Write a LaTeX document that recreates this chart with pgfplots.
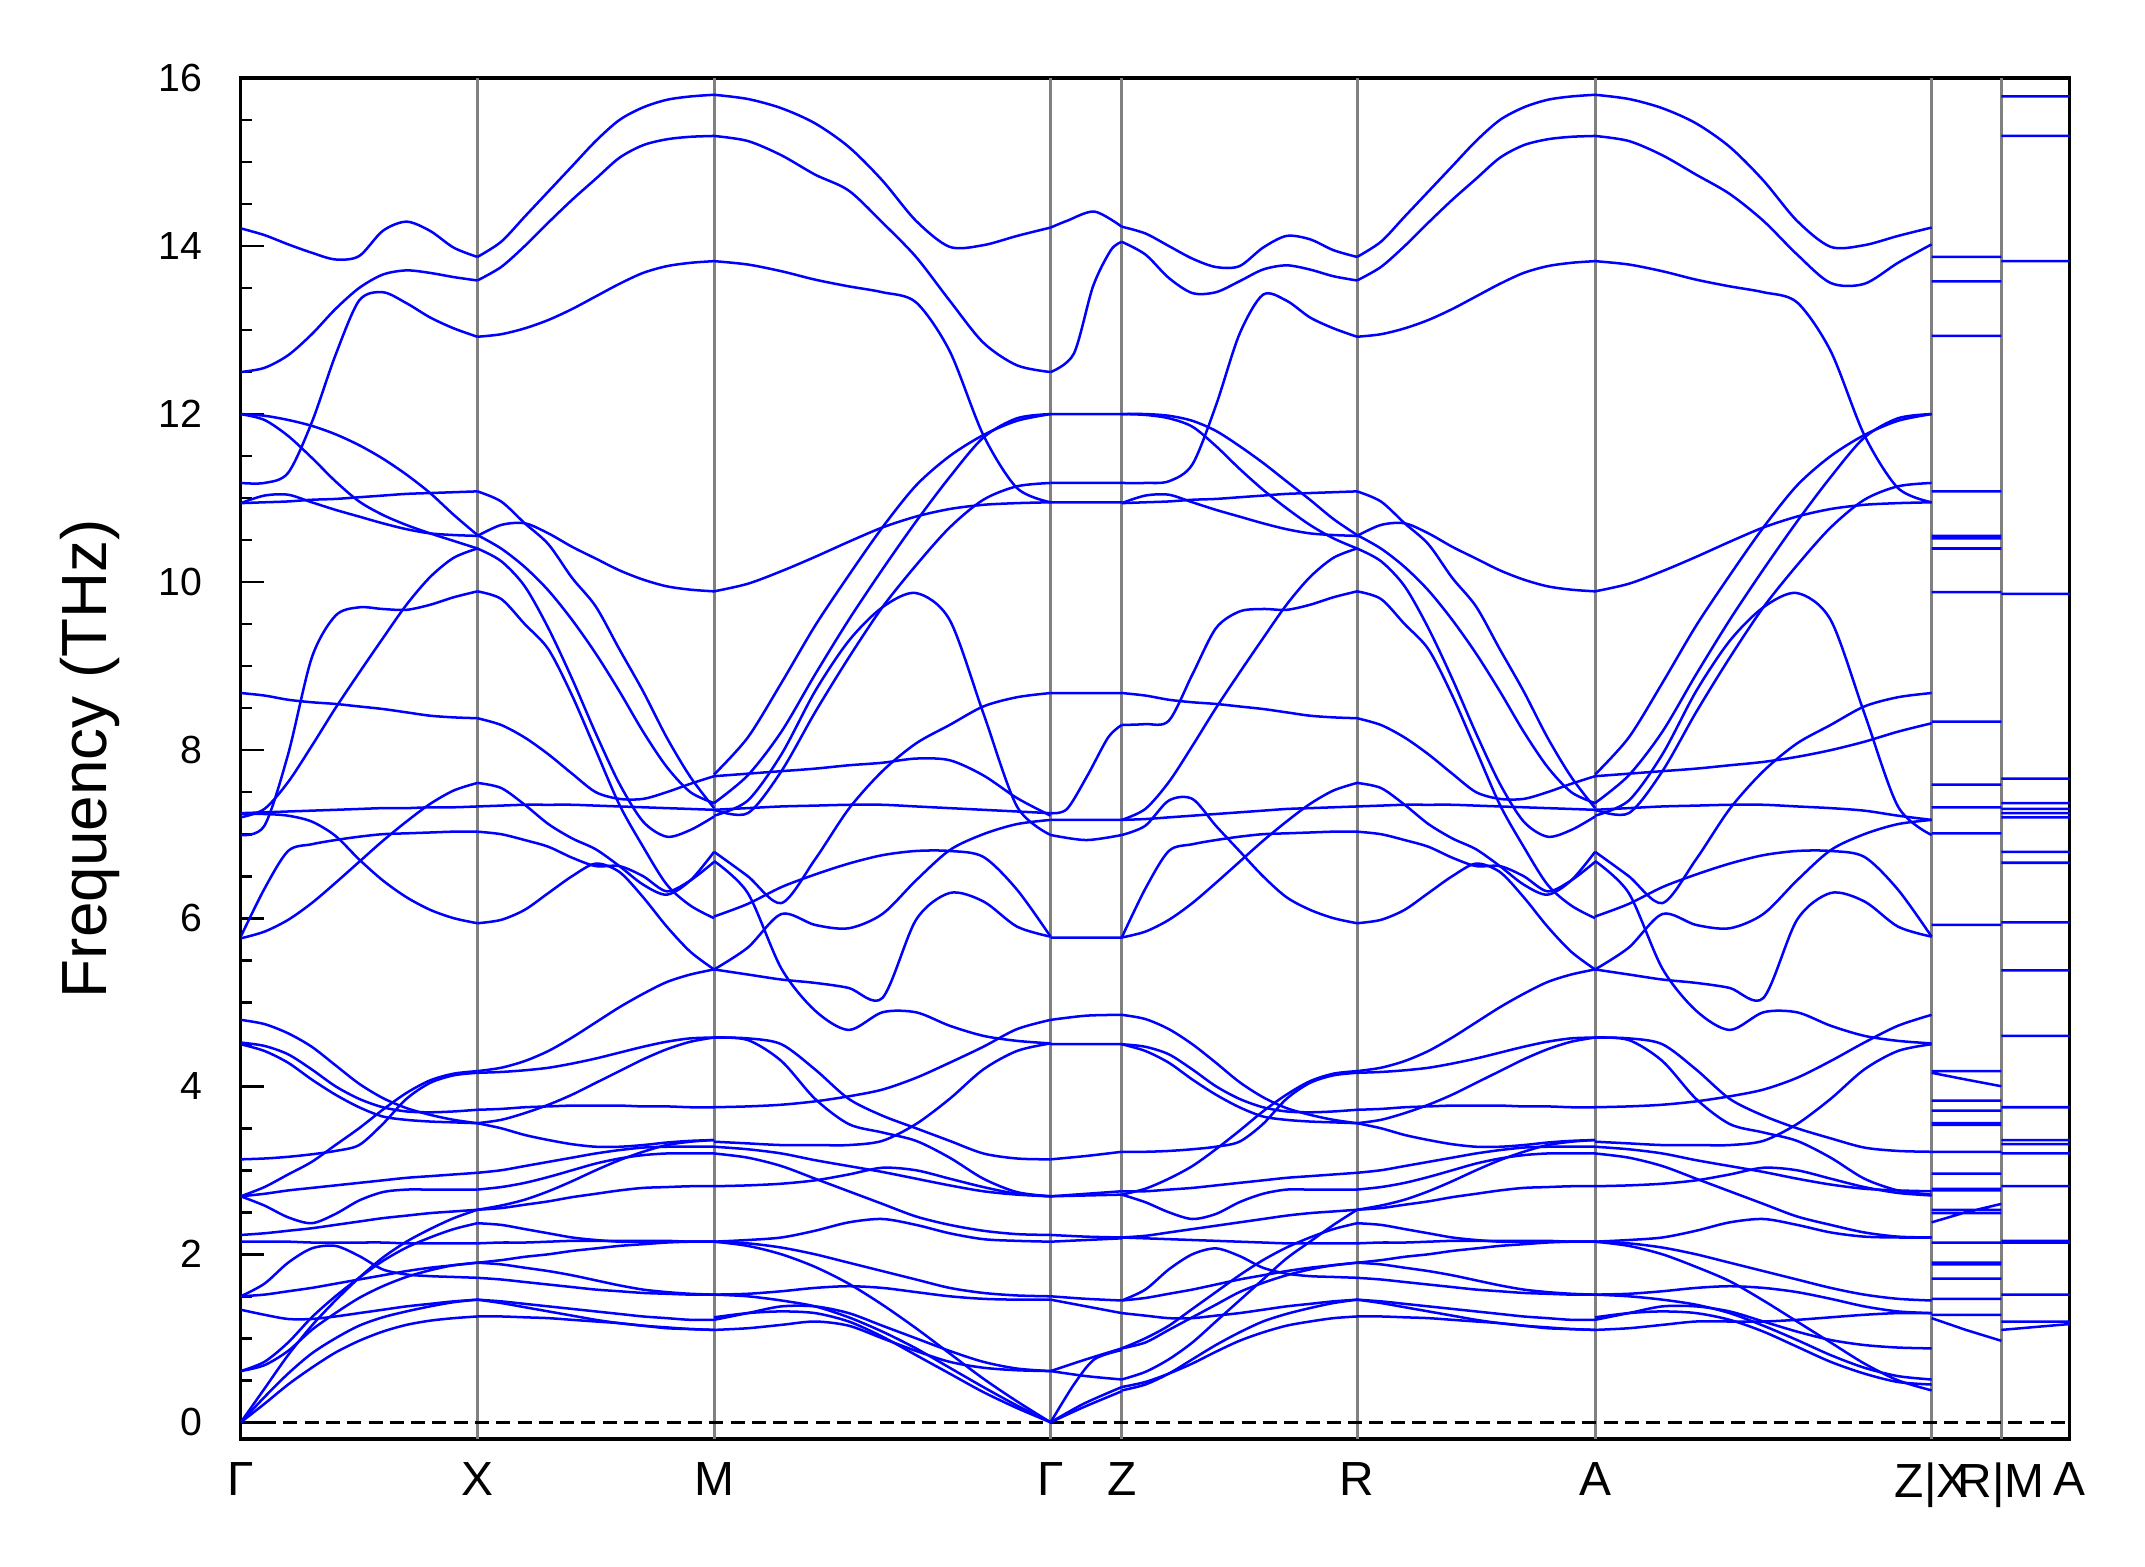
\documentclass[border=0pt]{standalone}
\usepackage{fontspec}
\setmainfont{Liberation Sans}
\usepackage{pgfplots}
\usepackage{pgfplotstable}
\pgfplotsset{compat=1.18}

% Gamma-X : one band per row, 11 points from Gamma to X
\pgfplotstableread{
14.21 14.13 14.02 13.92 13.84 13.88 14.18 14.29 14.18 13.98 13.87
12.5 12.55 12.7 12.95 13.25 13.5 13.66 13.71 13.68 13.63 13.59
11.18 11.18 11.3 11.9 12.7 13.35 13.45 13.32 13.15 13.02 12.92
12.0 11.98 11.93 11.86 11.76 11.63 11.47 11.28 11.06 10.8 10.56
12.0 11.93 11.74 11.48 11.2 10.96 10.8 10.68 10.58 10.49 10.40
10.94 11.03 11.04 10.95 10.86 10.78 10.7 10.63 10.58 10.56 10.55
10.94 10.95 10.96 10.98 10.99 11.01 11.03 11.05 11.06 11.07 11.08
6.99 7.1 7.95 9.1 9.6 9.7 9.68 9.67 9.73 9.82 9.89
7.2 7.3 7.62 8.05 8.5 8.92 9.33 9.73 10.06 10.29 10.40
5.76 5.84 5.98 6.18 6.42 6.67 6.92 7.15 7.36 7.52 7.61
5.78 6.35 6.8 6.88 6.93 6.97 7.0 7.01 7.02 7.03 7.03
7.25 7.26 7.27 7.28 7.29 7.3 7.31 7.31 7.32 7.32 7.33
7.24 7.24 7.22 7.15 6.98 6.7 6.45 6.25 6.1 6.0 5.94
8.68 8.65 8.6 8.57 8.55 8.52 8.49 8.45 8.41 8.39 8.38
4.79 4.74 4.63 4.47 4.25 4.03 3.86 3.74 3.66 3.6 3.56
4.52 4.48 4.38 4.2 4.0 3.85 3.75 3.7 3.69 3.7 3.72
4.50 4.42 4.28 4.08 3.9 3.75 3.64 3.6 3.58 3.57 3.56
3.13 3.14 3.16 3.19 3.23 3.3 3.55 3.85 4.04 4.13 4.16
2.69 2.8 2.95 3.1 3.3 3.5 3.72 3.92 4.07 4.15 4.18
2.69 2.72 2.76 2.79 2.82 2.85 2.88 2.91 2.93 2.95 2.97
2.69 2.58 2.44 2.37 2.48 2.64 2.74 2.77 2.77 2.77 2.77
2.23 2.25 2.28 2.31 2.35 2.39 2.43 2.46 2.49 2.51 2.53
2.15 2.15 2.15 2.14 2.14 2.14 2.14 2.13 2.13 2.13 2.13
1.5 1.65 1.9 2.07 2.1 1.98 1.82 1.76 1.74 1.73 1.72
1.5 1.52 1.56 1.6 1.65 1.7 1.75 1.8 1.84 1.87 1.9
1.34 1.28 1.23 1.23 1.26 1.3 1.34 1.38 1.41 1.44 1.46
0.61 0.68 0.85 1.1 1.3 1.48 1.62 1.73 1.81 1.87 1.9
0.61 0.72 0.95 1.25 1.5 1.72 1.92 2.08 2.2 2.3 2.37
0 0.4 0.8 1.15 1.45 1.72 1.96 2.15 2.3 2.43 2.53
0 0.3 0.58 0.82 1.0 1.15 1.25 1.32 1.38 1.43 1.46
0 0.22 0.45 0.65 0.83 0.97 1.08 1.16 1.21 1.24 1.26
}\GXraw
\pgfplotstabletranspose{\GX}{\GXraw}

% X-M (also used for R-A)
\pgfplotstableread{
13.87 14.05 14.35 14.65 14.95 15.25 15.5 15.65 15.74 15.78 15.8
13.59 13.75 14.0 14.28 14.55 14.8 15.05 15.2 15.27 15.3 15.31
12.92 12.95 13.02 13.12 13.25 13.4 13.55 13.68 13.76 13.8 13.82
10.55 10.68 10.7 10.58 10.42 10.28 10.14 10.03 9.95 9.91 9.89
11.08 10.96 10.7 10.45 10.05 9.71 9.2 8.7 8.15 7.68 7.31
10.56 10.4 10.18 9.9 9.55 9.15 8.7 8.22 7.8 7.5 7.37
10.40 10.25 9.95 9.45 8.85 8.2 7.6 7.15 6.97 7.05 7.21
9.89 9.8 9.5 9.2 8.65 8.0 7.35 6.85 6.4 6.15 6.0
8.38 8.3 8.15 7.95 7.72 7.5 7.42 7.42 7.5 7.6 7.69
7.61 7.55 7.35 7.12 6.95 6.82 6.62 6.4 6.28 6.45 6.79
7.33 7.34 7.35 7.35 7.35 7.34 7.33 7.32 7.31 7.3 7.29
7.03 7.0 6.93 6.85 6.72 6.62 6.62 6.5 6.32 6.45 6.67
5.94 5.98 6.1 6.3 6.5 6.65 6.55 6.25 5.9 5.6 5.39
4.18 4.22 4.3 4.42 4.58 4.76 4.94 5.1 5.24 5.33 5.39
4.16 4.17 4.19 4.22 4.27 4.33 4.4 4.47 4.53 4.57 4.58
3.72 3.73 3.75 3.76 3.77 3.77 3.77 3.76 3.76 3.75 3.75
3.56 3.6 3.68 3.78 3.9 4.04 4.18 4.32 4.44 4.53 4.58
3.56 3.5 3.42 3.36 3.31 3.28 3.28 3.3 3.33 3.35 3.36
2.97 3.0 3.05 3.1 3.15 3.2 3.24 3.27 3.28 3.28 3.28
2.77 2.8 2.85 2.92 3.0 3.08 3.14 3.18 3.2 3.2 3.2
2.53 2.55 2.59 2.63 2.68 2.72 2.76 2.79 2.8 2.81 2.81
2.53 2.58 2.65 2.75 2.87 3.0 3.12 3.22 3.3 3.34 3.36
2.37 2.35 2.3 2.25 2.2 2.17 2.15 2.15 2.15 2.15 2.15
2.13 2.14 2.14 2.15 2.16 2.16 2.16 2.16 2.16 2.15 2.15
1.9 1.93 1.97 2.0 2.04 2.07 2.1 2.12 2.14 2.15 2.15
1.9 1.88 1.84 1.8 1.75 1.69 1.63 1.58 1.55 1.53 1.52
1.72 1.7 1.67 1.64 1.61 1.58 1.56 1.54 1.53 1.52 1.52
1.46 1.44 1.41 1.38 1.35 1.32 1.29 1.26 1.24 1.22 1.22
1.46 1.42 1.37 1.32 1.27 1.22 1.18 1.15 1.12 1.11 1.10
1.26 1.26 1.25 1.24 1.22 1.2 1.18 1.15 1.13 1.11 1.10
}\XMraw
\pgfplotstabletranspose{\XM}{\XMraw}

% M-Gamma
\pgfplotstableread{
15.8 15.75 15.64 15.46 15.18 14.78 14.3 13.99 14.01 14.12 14.22
15.31 15.25 15.08 14.85 14.66 14.28 13.87 13.35 12.85 12.58 12.5
13.82 13.78 13.7 13.6 13.52 13.45 13.33 12.75 11.75 11.12 10.95
9.89 9.98 10.13 10.3 10.48 10.65 10.78 10.87 10.92 10.94 10.95
7.71 8.15 8.8 9.48 10.08 10.65 11.15 11.5 11.75 11.92 12.0
7.37 7.7 8.22 8.9 9.55 10.15 10.72 11.25 11.72 11.95 12.0
7.29 7.25 7.75 8.45 9.1 9.7 10.2 10.65 10.98 11.14 11.18
7.22 7.4 7.95 8.7 9.3 9.7 9.87 9.55 8.44 7.33 6.99
6.79 6.5 6.18 6.7 7.3 7.75 8.08 8.3 8.52 8.63 8.68
7.29 7.31 7.33 7.34 7.35 7.35 7.33 7.31 7.29 7.27 7.25
7.69 7.72 7.75 7.78 7.82 7.85 7.9 7.88 7.7 7.43 7.22
6.68 6.3 5.4 4.9 4.67 4.88 4.88 4.72 4.6 4.54 4.51
5.39 5.65 6.05 5.92 5.88 6.05 6.45 6.81 7.0 7.12 7.17
6.02 6.17 6.37 6.52 6.65 6.75 6.8 6.8 6.73 6.34 5.78
5.39 5.33 5.27 5.23 5.17 5.05 5.98 6.3 6.2 5.9 5.78
4.58 4.57 4.5 4.2 3.85 3.65 3.5 3.35 3.2 3.14 3.13
4.58 4.55 4.3 3.85 3.55 3.45 3.35 3.15 2.9 2.74 2.69
3.75 3.76 3.78 3.82 3.88 3.96 4.1 4.28 4.47 4.68 4.79
3.34 3.32 3.3 3.3 3.3 3.35 3.55 3.85 4.2 4.42 4.51
3.28 3.25 3.2 3.12 3.05 2.98 2.9 2.82 2.75 2.71 2.69
3.2 3.15 3.05 2.9 2.75 2.6 2.45 2.35 2.28 2.24 2.23
2.81 2.82 2.84 2.88 2.95 3.03 3.0 2.9 2.8 2.72 2.69
2.15 2.17 2.2 2.28 2.38 2.42 2.35 2.25 2.18 2.16 2.15
2.15 2.13 2.08 2.0 1.9 1.8 1.7 1.6 1.54 1.51 1.5
1.52 1.53 1.56 1.6 1.62 1.6 1.55 1.5 1.47 1.46 1.46
1.22 1.3 1.38 1.38 1.3 1.15 1.0 0.85 0.72 0.64 0.61
1.1 1.12 1.16 1.2 1.15 1.0 0.85 0.72 0.65 0.62 0.61
2.15 2.1 2.0 1.85 1.65 1.4 1.12 0.82 0.52 0.25 0
1.52 1.5 1.45 1.38 1.25 1.08 0.88 0.65 0.42 0.2 0
1.25 1.3 1.32 1.3 1.2 1.02 0.8 0.58 0.36 0.17 0
}\MGraw
\pgfplotstabletranspose{\MG}{\MGraw}

% Z-R
\pgfplotstableread{
14.23 14.15 14.0 13.85 13.75 13.76 13.98 14.12 14.08 13.95 13.87
14.05 13.9 13.62 13.44 13.45 13.58 13.72 13.77 13.72 13.64 13.59
11.18 11.18 11.2 11.4 12.1 12.95 13.42 13.35 13.15 13.02 12.92
12.0 12.0 11.98 11.92 11.8 11.62 11.42 11.2 10.98 10.75 10.56
12.0 11.99 11.95 11.85 11.62 11.35 11.1 10.88 10.68 10.52 10.40
10.94 11.03 11.04 10.95 10.86 10.78 10.7 10.63 10.58 10.56 10.55
10.94 10.95 10.96 10.98 10.99 11.01 11.03 11.05 11.06 11.07 11.08
8.3 8.31 8.35 8.9 9.45 9.65 9.68 9.67 9.73 9.82 9.89
7.17 7.3 7.62 8.05 8.5 8.92 9.33 9.73 10.06 10.29 10.40
5.77 5.84 5.98 6.18 6.42 6.67 6.92 7.15 7.36 7.52 7.61
5.77 6.35 6.8 6.88 6.93 6.97 7.0 7.01 7.02 7.03 7.03
7.17 7.18 7.2 7.22 7.24 7.26 7.28 7.3 7.31 7.32 7.33
6.99 7.1 7.4 7.42 7.1 6.8 6.5 6.25 6.1 6.0 5.94
8.68 8.65 8.6 8.57 8.55 8.52 8.49 8.45 8.41 8.39 8.38
4.85 4.8 4.68 4.5 4.28 4.05 3.87 3.74 3.66 3.6 3.56
4.5 4.47 4.38 4.2 4.0 3.85 3.75 3.7 3.69 3.7 3.72
4.5 4.42 4.28 4.08 3.9 3.75 3.64 3.6 3.58 3.57 3.56
3.22 3.22 3.23 3.25 3.28 3.34 3.55 3.85 4.04 4.13 4.16
2.71 2.78 2.9 3.05 3.25 3.47 3.7 3.9 4.06 4.15 4.18
2.75 2.75 2.77 2.79 2.82 2.85 2.88 2.91 2.93 2.95 2.97
2.71 2.62 2.5 2.42 2.48 2.62 2.72 2.77 2.77 2.77 2.77
2.2 2.22 2.26 2.3 2.34 2.38 2.42 2.46 2.49 2.51 2.53
2.2 2.19 2.18 2.17 2.16 2.15 2.14 2.13 2.13 2.13 2.13
1.45 1.58 1.82 2.0 2.07 1.98 1.84 1.77 1.74 1.73 1.72
1.45 1.48 1.53 1.58 1.64 1.7 1.75 1.8 1.84 1.87 1.9
1.3 1.27 1.24 1.24 1.27 1.3 1.34 1.38 1.41 1.44 1.46
0.88 0.95 1.1 1.25 1.4 1.55 1.66 1.75 1.82 1.87 1.9
0.88 1.0 1.15 1.35 1.55 1.75 1.93 2.08 2.2 2.3 2.37
0.51 0.6 0.75 0.95 1.2 1.45 1.7 1.95 2.15 2.35 2.53
0.38 0.45 0.58 0.75 0.92 1.07 1.2 1.29 1.36 1.42 1.46
0.42 0.48 0.58 0.7 0.84 0.97 1.07 1.15 1.2 1.24 1.26
}\ZRraw
\pgfplotstabletranspose{\ZR}{\ZRraw}

% A-Z
\pgfplotstableread{
15.8 15.75 15.64 15.46 15.18 14.78 14.3 13.99 14.01 14.12 14.22
15.31 15.25 15.08 14.85 14.62 14.3 13.9 13.56 13.55 13.8 14.02
13.82 13.78 13.7 13.6 13.52 13.45 13.33 12.75 11.75 11.12 10.95
9.89 9.98 10.13 10.3 10.48 10.65 10.78 10.87 10.92 10.94 10.95
7.71 8.15 8.8 9.48 10.08 10.65 11.15 11.5 11.75 11.92 12.0
7.37 7.7 8.22 8.9 9.55 10.15 10.72 11.25 11.72 11.95 12.0
7.29 7.25 7.75 8.45 9.1 9.7 10.2 10.65 10.98 11.14 11.18
7.22 7.4 7.95 8.7 9.3 9.7 9.87 9.55 8.44 7.33 6.99
6.79 6.5 6.18 6.7 7.3 7.75 8.08 8.3 8.52 8.63 8.68
7.29 7.31 7.33 7.34 7.35 7.35 7.33 7.31 7.28 7.22 7.17
7.69 7.72 7.75 7.78 7.82 7.86 7.92 8.0 8.1 8.22 8.32
6.68 6.3 5.4 4.9 4.67 4.88 4.88 4.72 4.6 4.54 4.51
5.39 5.65 6.05 5.92 5.88 6.05 6.45 6.81 7.0 7.12 7.17
6.02 6.17 6.37 6.52 6.65 6.75 6.8 6.8 6.73 6.34 5.78
5.39 5.33 5.27 5.23 5.17 5.05 5.98 6.3 6.2 5.9 5.78
4.58 4.57 4.5 4.2 3.85 3.65 3.5 3.38 3.27 3.23 3.22
4.58 4.55 4.3 3.85 3.55 3.45 3.35 3.15 2.9 2.76 2.71
3.75 3.76 3.78 3.82 3.88 3.96 4.1 4.3 4.52 4.72 4.85
3.34 3.32 3.3 3.3 3.3 3.35 3.55 3.85 4.2 4.42 4.5
3.28 3.25 3.2 3.12 3.05 2.98 2.9 2.83 2.78 2.76 2.75
3.2 3.15 3.05 2.9 2.75 2.6 2.45 2.35 2.26 2.21 2.2
2.81 2.82 2.84 2.88 2.95 3.03 3.0 2.9 2.8 2.73 2.7
2.15 2.17 2.2 2.28 2.38 2.42 2.35 2.26 2.21 2.2 2.2
2.15 2.13 2.08 2.0 1.9 1.8 1.7 1.6 1.52 1.47 1.45
1.52 1.53 1.56 1.6 1.62 1.6 1.55 1.47 1.38 1.32 1.30
1.22 1.3 1.38 1.38 1.32 1.2 1.08 0.98 0.92 0.89 0.88
1.1 1.12 1.16 1.2 1.2 1.2 1.22 1.25 1.28 1.3 1.3
2.15 2.1 2.0 1.85 1.68 1.45 1.2 0.95 0.7 0.5 0.38
1.52 1.5 1.46 1.4 1.3 1.15 0.98 0.8 0.65 0.55 0.51
1.25 1.3 1.32 1.3 1.22 1.08 0.9 0.72 0.58 0.48 0.45
}\AZraw
\pgfplotstabletranspose{\AZ}{\AZraw}

\definecolor{bandblue}{RGB}{0,0,255}
\definecolor{symgray}{RGB}{128,128,128}

\begin{document}
\begin{tikzpicture}
\begin{axis}[
  name=ax,
  scale only axis,
  width=401.1pt, height=298.5pt,
  xmin=176, xmax=1513, ymin=-0.2, ymax=16,
  unbounded coords=jump,
  axis line style={line width=0.73pt},
  xtick={176,349,522,768,820,992,1166,1412,1463,1513},
  xticklabels={Γ,X,M,Γ,Z,R,A,Z|X,R|M,A},
  xtick style={draw=none},
  ytick={0,2,...,16},
  minor y tick num=3,
  ytick pos=left,
  tick align=inside,
  major tick length=5.1pt,
  minor tick length=2.4pt,
  ytick style={line width=0.58pt, black},
  minor y tick style={line width=0.58pt, black},
  yticklabel style={font=\fontsize{8.6}{10}\selectfont, xshift=-4.9pt},
  xticklabel style={font=\fontsize{10.5}{12}\selectfont, yshift=-1.6pt},
  /pgf/number format/assume math mode=true,
  ylabel={Frequency (THz)},
  ylabel style={font=\fontsize{14}{16}\selectfont, at={(axis description cs:-0.0823,0.5)}, anchor=center},
  band/.style={bandblue, line width=0.55pt, mark=none},
]
% high-symmetry separators
\addplot[symgray, line width=0.66pt, forget plot] coordinates {
(349,-0.2)(349,16) (349,nan) (522,-0.2)(522,16) (522,nan) (768,-0.2)(768,16) (768,nan)
(820,-0.2)(820,16) (820,nan) (992,-0.2)(992,16) (992,nan) (1166,-0.2)(1166,16) (1166,nan)
(1412,-0.2)(1412,16) (1412,nan) (1463,-0.2)(1463,16)};
% zero line
\addplot[black, line width=0.7pt, dash pattern=on 3.07pt off 1.6pt, forget plot] coordinates {(176,0)(1513,0)};

% dispersive segments
\pgfplotsinvokeforeach{1,...,31}{\addplot[band, smooth] table[x expr=176+17.3*\coordindex, y index=#1]{\GX};}
\pgfplotsinvokeforeach{1,...,30}{\addplot[band, smooth] table[x expr=349+17.3*\coordindex, y index=#1]{\XM};}
\pgfplotsinvokeforeach{1,...,30}{\addplot[band, smooth] table[x expr=522+24.6*\coordindex, y index=#1]{\MG};}
\pgfplotsinvokeforeach{1,...,31}{\addplot[band, smooth] table[x expr=820+17.2*\coordindex, y index=#1]{\ZR};}
\pgfplotsinvokeforeach{1,...,30}{\addplot[band, smooth] table[x expr=992+17.4*\coordindex, y index=#1]{\XM};}
\pgfplotsinvokeforeach{1,...,30}{\addplot[band, smooth] table[x expr=1166+24.6*\coordindex, y index=#1]{\AZ};}

% Gamma-Z
\addplot[band, smooth] coordinates {(768,14.22)(780,14.3)(800,14.41)(820,14.23)};
\addplot[band, smooth] coordinates {(768,12.5)(785,12.72)(799,13.52)(812,13.95)(820,14.05)};
\addplot[band, smooth] coordinates {(768,7.25)(780,7.3)(795,7.7)(810,8.15)(820,8.3)};
\addplot[band, smooth] coordinates {(768,6.99)(794,6.93)(820,6.99)};
\addplot[band, smooth] coordinates {(768,4.79)(794,4.84)(820,4.85)};
\addplot[band, smooth] coordinates {(768,3.13)(794,3.17)(820,3.22)};
\addplot[band, smooth] coordinates {(768,2.69)(794,2.7)(820,2.71)};
\addplot[band, smooth] coordinates {(768,2.69)(794,2.72)(820,2.75)};
\addplot[band, smooth] coordinates {(768,2.23)(794,2.21)(820,2.2)};
\addplot[band, smooth] coordinates {(768,1.5)(794,1.47)(820,1.45)};
\addplot[band, smooth] coordinates {(768,1.46)(794,1.38)(820,1.3)};
\addplot[band, smooth] coordinates {(768,0.61)(794,0.75)(820,0.88)};
\addplot[band, smooth] coordinates {(768,0.61)(794,0.55)(820,0.51)};
\addplot[band, smooth] coordinates {(768,0)(785,0.45)(800,0.75)(820,0.86)};
\addplot[band, smooth] coordinates {(768,0)(792,0.22)(820,0.42)};
\addplot[band, smooth] coordinates {(768,0)(792,0.18)(820,0.37)};
\addplot[band] coordinates {(768,12)(820,12) (820,nan) (768,11.18)(820,11.18) (820,nan)
(768,10.95)(820,10.95) (820,nan) (768,8.68)(820,8.68) (820,nan) (768,7.17)(820,7.17) (820,nan)
(768,5.77)(820,5.77) (820,nan) (768,4.5)(820,4.5) (820,nan) (768,2.15)(820,2.19)};

% X-R (flat)
\addplot[band] coordinates {
(1412,13.87)(1463,13.87) (1463,nan) (1412,13.58)(1463,13.58) (1463,nan) (1412,12.93)(1463,12.93) (1463,nan)
(1412,11.08)(1463,11.08) (1463,nan) (1412,10.55)(1463,10.55) (1463,nan) (1412,10.52)(1463,10.52) (1463,nan)
(1412,10.4)(1463,10.4) (1463,nan) (1412,9.88)(1463,9.88) (1463,nan) (1412,8.34)(1463,8.34) (1463,nan)
(1412,7.59)(1463,7.59) (1463,nan) (1412,7.32)(1463,7.32) (1463,nan) (1412,7.01)(1463,7.01) (1463,nan)
(1412,5.92)(1463,5.92) (1463,nan) (1412,4.18)(1463,4.18) (1463,nan) (1412,4.16)(1437,4.08)(1463,4.0) (1463,nan)
(1412,3.83)(1463,3.83) (1463,nan) (1412,3.71)(1463,3.71) (1463,nan) (1412,3.56)(1463,3.56) (1463,nan)
(1412,3.54)(1463,3.54) (1463,nan) (1412,3.22)(1463,3.22) (1463,nan) (1412,2.96)(1463,2.96) (1463,nan)
(1412,2.78)(1463,2.78) (1463,nan) (1412,2.76)(1463,2.76) (1463,nan) (1412,2.53)(1463,2.53) (1463,nan)
(1412,2.49)(1463,2.49) (1463,nan) (1412,2.38)(1437,2.5)(1463,2.6) (1463,nan) (1412,2.14)(1463,2.14) (1463,nan)
(1412,1.9)(1463,1.9) (1463,nan) (1412,1.88)(1463,1.88) (1463,nan) (1412,1.71)(1463,1.71) (1463,nan)
(1412,1.47)(1463,1.47) (1463,nan) (1412,1.28)(1463,1.28) (1463,nan) (1412,1.24)(1437,1.1)(1463,0.97)};

% M-A (flat)
\addplot[band] coordinates {
(1463,15.78)(1513,15.78) (1513,nan) (1463,15.31)(1513,15.31) (1513,nan) (1463,13.82)(1513,13.82) (1513,nan)
(1463,9.86)(1513,9.86) (1513,nan) (1463,7.66)(1513,7.66) (1513,nan) (1463,7.37)(1513,7.37) (1513,nan)
(1463,7.3)(1513,7.3) (1513,nan) (1463,7.25)(1513,7.25) (1513,nan) (1463,7.2)(1513,7.2) (1513,nan)
(1463,6.79)(1513,6.79) (1513,nan) (1463,6.66)(1513,6.66) (1513,nan) (1463,5.95)(1513,5.95) (1513,nan)
(1463,5.38)(1513,5.38) (1513,nan) (1463,4.6)(1513,4.6) (1513,nan) (1463,3.75)(1513,3.75) (1513,nan)
(1463,3.36)(1513,3.36) (1513,nan) (1463,3.31)(1513,3.31) (1513,nan) (1463,3.2)(1513,3.2) (1513,nan)
(1463,2.81)(1513,2.81) (1513,nan) (1463,2.16)(1513,2.16) (1513,nan) (1463,2.14)(1513,2.14) (1513,nan)
(1463,1.52)(1513,1.52) (1513,nan) (1463,1.2)(1513,1.2) (1513,nan) (1463,1.1)(1513,1.17)};
\end{axis}
\path (ax.south west) ++(-52.8pt,-27.9pt) rectangle ++(470.4pt,343.5pt);
\end{tikzpicture}
\end{document}
